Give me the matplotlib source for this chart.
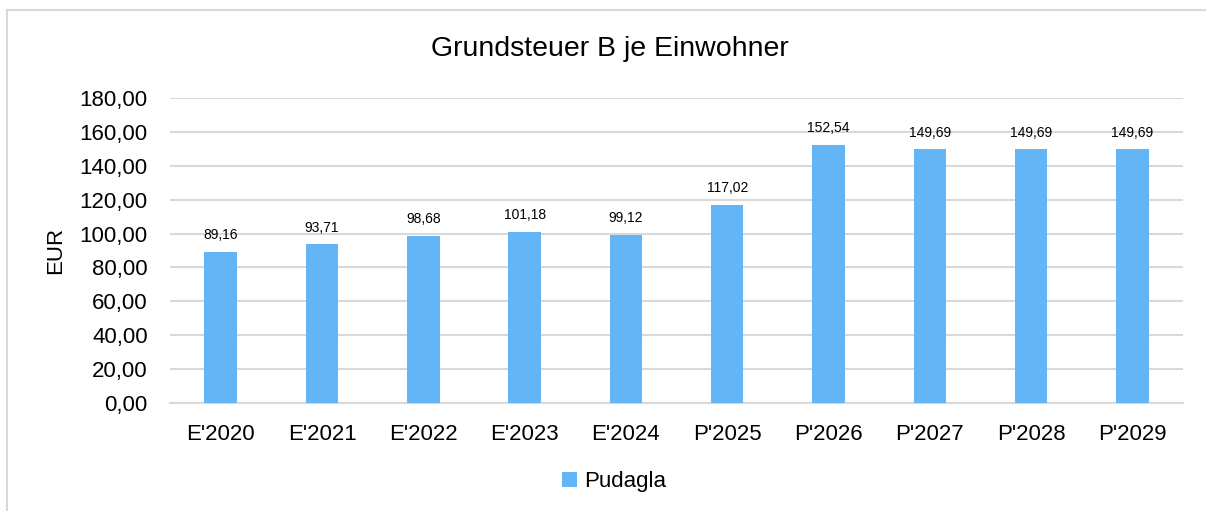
import matplotlib.pyplot as plt
from matplotlib.patches import Rectangle

plt.rcParams["font.family"] = ["Liberation Sans", "DejaVu Sans"]

categories = ["E'2020", "E'2021", "E'2022", "E'2023", "E'2024",
              "P'2025", "P'2026", "P'2027", "P'2028", "P'2029"]
values = [89.16, 93.71, 98.68, 101.18, 99.12, 117.02, 152.54, 149.69, 149.69, 149.69]
series_name = "Pudagla"
y_ticks = [0, 20, 40, 60, 80, 100, 120, 140, 160, 180]

bar_color = "#63B5F5"
grid_color = "#D9D9D9"


def de_fmt(v):
    return f"{v:.2f}".replace(".", ",")


fig = plt.figure(figsize=(12.06, 5.11), dpi=100)

# chart frame
fig.patches.append(Rectangle((7 / 1206, -0.1), 1.2, 1 - 10 / 511 + 0.1,
                             transform=fig.transFigure, fill=False,
                             edgecolor="#D9D9D9", linewidth=1.5))

ax = fig.add_axes([0.141, 0.2114, 0.840, 0.5966])
x = range(len(categories))
bars = ax.bar(x, values, width=0.32, color=bar_color, label=series_name, zorder=3)

for xi, v in zip(x, values):
    ax.annotate(de_fmt(v), (xi, v), xytext=(0, 7), textcoords="offset points",
                ha="center", va="bottom", fontsize=10)

ax.set_ylim(0, 180)
ax.set_xlim(-0.5, len(categories) - 0.5)
ax.set_yticks(y_ticks)
ax.set_yticklabels([de_fmt(t) for t in y_ticks], fontsize=16)
ax.set_xticks(list(x))
ax.set_xticklabels(categories, fontsize=16)
ax.tick_params(axis="y", length=0, pad=16)
ax.tick_params(axis="x", length=0, pad=15)

ax.grid(axis="y", color=grid_color, linewidth=1.5, zorder=0)
for side in ["top", "right", "left"]:
    ax.spines[side].set_visible(False)
ax.spines["bottom"].set_color(grid_color)
ax.spines["bottom"].set_linewidth(1.5)

ax.set_ylabel("EUR", fontsize=16, labelpad=10)
fig.text(0.506, 0.905, "Grundsteuer B je Einwohner", ha="center", va="center", fontsize=20.5)

fig.legend(handles=[bars], labels=[series_name], loc="center",
           bbox_to_anchor=(0.509, 0.057), frameon=False, fontsize=16,
           handlelength=0.7, handleheight=0.7, handletextpad=0.3)

fig.savefig("out.png", dpi=100, facecolor="white")
